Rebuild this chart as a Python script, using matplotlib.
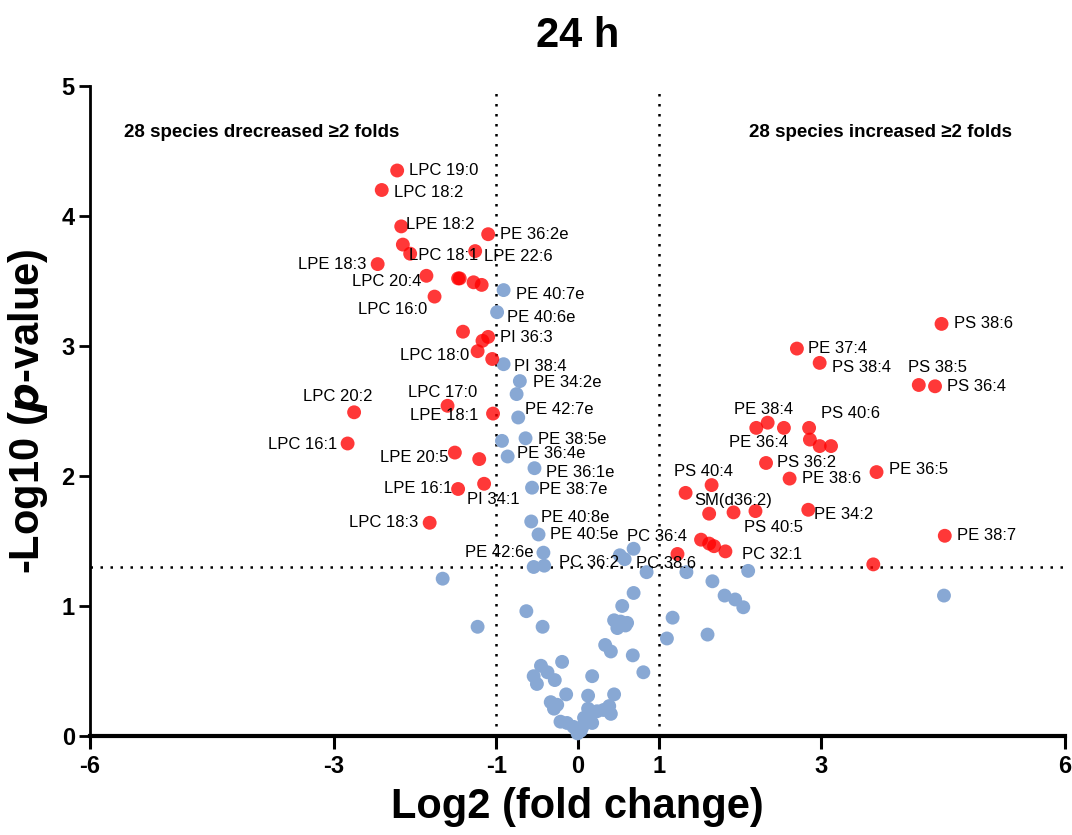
import matplotlib
matplotlib.use("Agg")
import matplotlib.pyplot as plt

plt.rcParams["font.family"] = ["Liberation Sans", "DejaVu Sans"]

# significant, decreased (left) and increased (right) species
red_x = [-2.22, -2.41, -2.17, -1.10, -2.15, -2.06, -1.26, -2.46, -1.86, -1.47,
         -1.45, -1.28, -1.18, -1.76, -1.41, -1.10, -1.17, -1.23, -1.05, -2.75,
         -1.60, -1.04, -2.83, -1.51, -1.21, -1.15, -1.47, -1.82,
         4.48, 2.70, 2.98, 4.20, 4.40, 2.20, 2.34, 2.54, 2.85, 2.86,
         2.98, 3.12, 2.32, 2.61, 3.68, 1.65, 1.33, 1.62, 1.92, 2.19,
         2.84, 4.52, 1.52, 1.62, 1.68, 1.82, 1.23, 3.64]
red_y = [4.35, 4.20, 3.92, 3.86, 3.78, 3.71, 3.73, 3.63, 3.54, 3.52,
         3.52, 3.49, 3.47, 3.38, 3.11, 3.07, 3.04, 2.96, 2.90, 2.49,
         2.54, 2.48, 2.25, 2.18, 2.13, 1.94, 1.90, 1.64,
         3.17, 2.98, 2.87, 2.70, 2.69, 2.37, 2.41, 2.37, 2.37, 2.28,
         2.23, 2.23, 2.10, 1.98, 2.03, 1.93, 1.87, 1.71, 1.72, 1.73,
         1.74, 1.54, 1.51, 1.48, 1.46, 1.42, 1.40, 1.32]
red_names = ["LPC 19:0", "LPC 18:2", "LPE 18:2", "PE 36:2e", "", "LPC 18:1", "LPE 22:6",
             "LPE 18:3", "LPC 20:4", "", "", "", "", "LPC 16:0", "", "PI 36:3", "",
             "LPC 18:0", "", "LPC 20:2", "LPC 17:0", "LPE 18:1", "LPC 16:1", "LPE 20:5",
             "", "PI 34:1", "LPE 16:1", "LPC 18:3",
             "PS 38:6", "PE 37:4", "PS 38:4", "PS 38:5", "PS 36:4", "PE 36:4", "PE 38:4",
             "", "PS 40:6", "", "", "", "PS 36:2", "PE 38:6", "PE 36:5", "PS 40:4", "",
             "", "SM(d36:2)", "PS 40:5", "PE 34:2", "PE 38:7", "", "", "", "PC 32:1",
             "PC 36:4", ""]

# not significant / below fold threshold
blue_x = [-0.91, -0.99, -0.91, -0.71, -0.75, -0.73, -0.93, -0.64, -0.86, -0.53,
          -0.56, -0.57, -0.48, -0.42, -0.54, -0.41, 0.52, 0.58, 0.69, 0.85,
          1.34, 2.10, 1.66, 1.81, 1.94, 2.04, 4.51, 1.17, 1.10, 1.60,
          -1.66, -1.23, -0.63, -0.43, 0.69, 0.55, 0.45, 0.53, 0.49, 0.59,
          0.61, 0.34, 0.41, 0.68, 0.81, -0.19, -0.45, -0.37, -0.54, -0.50,
          -0.28, 0.18, -0.14, 0.45, 0.13, -0.33, -0.29, -0.25, -0.21, -0.13,
          -0.05, 0.00, 0.04, 0.13, 0.24, 0.14, 0.18, 0.39, 0.41, 0.06,
          0.10, 0.32, 0.08]
blue_y = [3.43, 3.26, 2.86, 2.73, 2.63, 2.45, 2.27, 2.29, 2.15, 2.06,
          1.91, 1.65, 1.55, 1.41, 1.30, 1.31, 1.39, 1.36, 1.44, 1.26,
          1.26, 1.27, 1.19, 1.08, 1.05, 0.99, 1.08, 0.91, 0.75, 0.78,
          1.21, 0.84, 0.96, 0.84, 1.10, 1.00, 0.89, 0.88, 0.83, 0.85,
          0.87, 0.70, 0.65, 0.62, 0.49, 0.57, 0.54, 0.49, 0.46, 0.40,
          0.43, 0.46, 0.32, 0.32, 0.31, 0.26, 0.21, 0.24, 0.11, 0.10,
          0.07, 0.02, 0.04, 0.21, 0.19, 0.15, 0.10, 0.23, 0.17, 0.07,
          0.12, 0.20, 0.14]
blue_names = ["PE 40:7e", "PE 40:6e", "PI 38:4", "PE 34:2e", "", "PE 42:7e", "",
              "PE 38:5e", "PE 36:4e", "PE 36:1e", "PE 38:7e", "PE 40:8e", "PE 40:5e",
              "PE 42:6e", "", "", "PC 36:2", "", "", "PC 38:6"] + [""] * 53

x_ticks = [-6, -3, -1, 0, 1, 3, 6]
y_ticks = [0, 1, 2, 3, 4, 5]

# label placement: offset in pixels (dx, dy up) and alignment
label_pos = {
    "LPC 19:0": (12, 0, "left"), "LPC 18:2": (12, -3, "left"),
    "LPE 18:2": (5, 2, "left"), "PE 36:2e": (12, 0, "left"),
    "LPC 18:1": (-1, -2, "left"), "LPE 22:6": (9, -5, "left"),
    "LPE 18:3": (-11, 0, "right"), "LPC 20:4": (-5, -6, "right"),
    "LPC 16:0": (-7, -13, "right"), "PI 36:3": (12, -1, "left"),
    "LPC 18:0": (-8, -4, "right"), "LPC 20:2": (-16, 16, "center"),
    "LPC 17:0": (-5, 13, "center"), "LPE 18:1": (-15, -2, "right"),
    "LPC 16:1": (-10, -1, "right"), "LPE 20:5": (-6, -5, "right"),
    "PI 34:1": (9, -16, "center"), "LPE 16:1": (-6, 0, "right"),
    "LPC 18:3": (-11, 0, "right"), "PS 38:6": (12, 0, "left"),
    "PE 37:4": (11, 0, "left"), "PS 38:4": (12, -5, "left"),
    "PS 38:5": (-11, 17, "left"), "PS 36:4": (12, 0, "left"),
    "PE 38:4": (-4, 13, "center"), "PE 36:4": (2, -15, "center"),
    "PS 40:6": (12, 14, "left"), "PS 36:2": (11, 0, "left"),
    "PE 38:6": (12, 0, "left"), "PE 36:5": (12, 3, "left"),
    "PS 40:4": (-8, 14, "center"), "SM(d36:2)": (0, 12, "center"),
    "PS 40:5": (18, -16, "center"), "PE 34:2": (6, -5, "left"),
    "PE 38:7": (12, 0, "left"), "PC 32:1": (17, -3, "left"),
    "PC 36:4": (-50, 17, "left"), "PE 40:7e": (12, -4, "left"),
    "PE 40:6e": (10, -5, "left"), "PI 38:4": (10, -2, "left"),
    "PE 34:2e": (13, -1, "left"), "PE 42:7e": (7, 8, "left"),
    "PE 38:5e": (12, -1, "left"), "PE 36:4e": (9, 3, "left"),
    "PE 36:1e": (12, -4, "left"), "PE 38:7e": (7, -2, "left"),
    "PE 40:8e": (10, 4, "left"), "PE 40:5e": (11, 0, "left"),
    "PE 42:6e": (-10, 0, "right"), "PC 36:2": (-1, -7, "right"),
    "PC 38:6": (-11, 9, "left"),
}


def add_labels(ax, xs, ys, names):
    for x, y, name in zip(xs, ys, names):
        if not name:
            continue
        dx, dy, ha = label_pos[name]
        ax.annotate(name, (x, y), xytext=(dx, dy), textcoords="offset pixels",
                    ha=ha, va="center", fontsize=12, zorder=5)


fig = plt.figure(figsize=(10.72, 8.35), dpi=100)
ax = fig.add_axes([0.084, 0.1186, 0.9095, 0.7784])

ax.scatter(blue_x, blue_y, s=100, color="#88a8d4", edgecolors="none",
           zorder=3, clip_on=False)
ax.scatter(red_x, red_y, s=100, color="#ff0000", alpha=0.78, edgecolors="none",
           zorder=4, clip_on=False)

dots = (0, (1, 3))
ax.axvline(-1, color="black", lw=1.8, ls=dots, zorder=1)
ax.axvline(1, color="black", lw=1.8, ls=dots, zorder=1)
ax.axhline(1.3, color="black", lw=1.8, ls=dots, zorder=1)

add_labels(ax, red_x, red_y, red_names)
add_labels(ax, blue_x, blue_y, blue_names)

ax.text(-3.89, 4.64, "28 species drecreased \u22652 folds", ha="center", va="center",
        fontsize=13.5, fontweight="bold")
ax.text(3.73, 4.64, "28 species increased \u22652 folds", ha="center", va="center",
        fontsize=13.5, fontweight="bold")

ax.set_xlim(-6, 6)
ax.set_ylim(0, 5)
ax.set_xticks(x_ticks)
ax.set_yticks(y_ticks)
ax.set_xticklabels([str(t) for t in x_ticks], fontsize=17, fontweight="bold")
ax.set_yticklabels([str(t) for t in y_ticks], fontsize=17, fontweight="bold")
ax.tick_params(axis="x", length=9, width=2.2, pad=5)
ax.tick_params(axis="y", length=8, width=2, pad=3)

for side in ["top", "right"]:
    ax.spines[side].set_visible(False)
ax.spines["left"].set_linewidth(2)
ax.spines["bottom"].set_linewidth(3)

ax.set_xlabel("Log2 (fold change)", fontsize=30, fontweight="bold", labelpad=6)
ax.set_ylabel("-Log10 ($\\boldsymbol{p}$-value)", fontsize=30, fontweight="bold", labelpad=8)
ax.set_title("24 h", fontsize=30, fontweight="bold", pad=28)

fig.savefig("out.png", dpi=100)
